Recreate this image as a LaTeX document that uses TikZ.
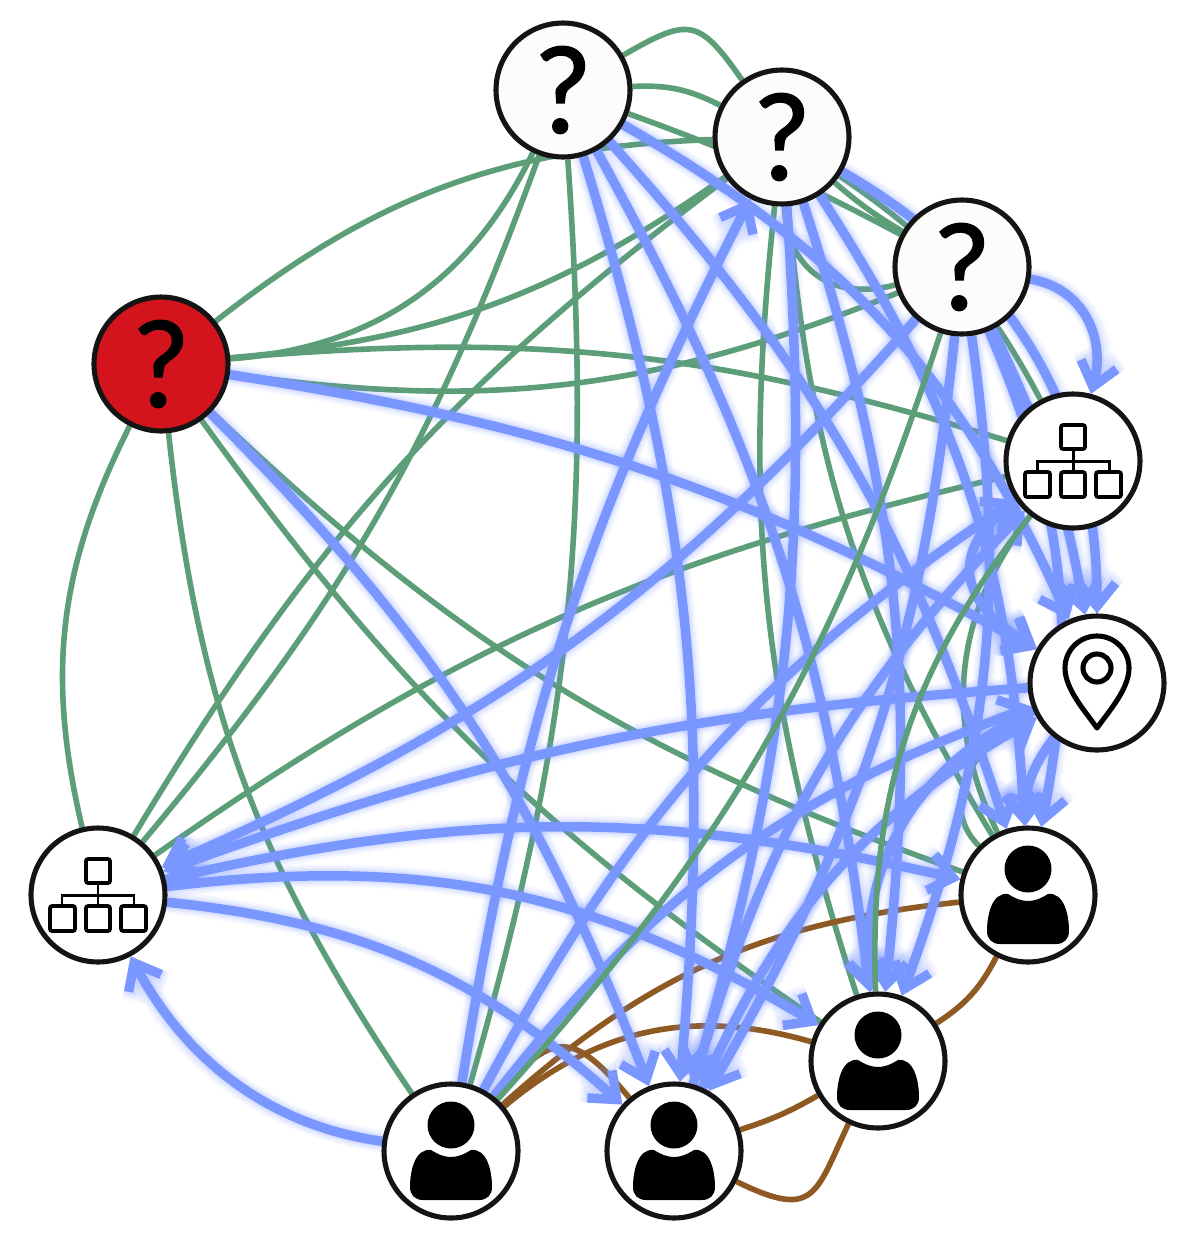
\documentclass[tikz,border=0pt]{standalone}
\usepackage{fontspec}
\newfontfamily\qfont[FakeBold=1.2]{Lato}
\usetikzlibrary{arrows.meta}
\pgfdeclarelayer{edges}
\pgfsetlayers{edges,main}
\definecolor{gedge}{HTML}{5C9E78}
\definecolor{bedge}{HTML}{7A96FF}
\definecolor{redge}{HTML}{8E5A22}
\definecolor{ring}{HTML}{141414}
\definecolor{qfill}{HTML}{FDFCFA}
\definecolor{redfill}{HTML}{D4141C}
\tikzset{
  basenode/.style={circle,draw=ring,line width=2.9pt,minimum size=2.68cm,inner sep=0pt,fill=white},
  qnode/.style={basenode,fill=qfill,font=\qfont\fontsize{68}{68}\selectfont},
  rnode/.style={qnode,fill=redfill},
  greenedge/.style={draw=gedge,line width=3.2pt},
  brownedge/.style={draw=redge,line width=3.2pt},
  tipbarb/.style={-{Straight Barb[length=13pt,width=21pt]}},
  halo1/.style={draw=bedge,line width=13pt,opacity=.06,tipbarb},
  halo2/.style={draw=bedge,line width=11pt,opacity=.07,tipbarb},
  halo3/.style={draw=bedge,line width=9pt,opacity=.09,tipbarb},
  halo4/.style={draw=bedge,line width=7.2pt,opacity=.13,tipbarb},
  blueedge/.style={draw=bedge,line width=5.4pt,tipbarb},
  personicon/.pic={
    \fill[black] (0,-26) circle[radius=23.5];
    \fill[black] (-20,-1) .. controls (-12,4) and (-6,6) .. (0,6)
      .. controls (6,6) and (12,4) .. (20,-1)
      .. controls (36,-3) and (41,20) .. (41,36)
      .. controls (41,44) and (36,49) .. (28,49) -- (-28,49)
      .. controls (-36,49) and (-41,44) .. (-41,36)
      .. controls (-41,20) and (-36,-3) .. (-20,-1) -- cycle;
  },
  orgicon/.pic={
    \draw[black,line width=2.1pt,rounded corners=1.2pt]
      (-12,-36) rectangle (12,-12)
      (-48,11) rectangle (-23,36)
      (-12,11) rectangle (12,36)
      (23,11) rectangle (48,36);
    \draw[black,line width=1.7pt] (0,-12) -- (0,11) (-36,11) -- (-36,0) -- (36,0) -- (36,11);
  },
  pinicon/.pic={
    \draw[black,line width=2.9pt,line join=round] (0,45)
      .. controls (-12,28) and (-32,6) .. (-32,-15)
      arc[start angle=180,end angle=360,radius=32]
      .. controls (32,6) and (12,28) .. (0,45) -- cycle;
    \draw[black,line width=2.9pt] (0,-15) circle[radius=14];
  }
}
\newcommand{\gre}[3]{\draw[greenedge] (#1) to[#3] (#2);}
\newcommand{\bro}[3]{\draw[brownedge] (#1) to[#3] (#2);}
\newcommand{\ble}[3]{%
  \draw[halo1] (#1) to[#3] (#2);
  \draw[halo2] (#1) to[#3] (#2);
  \draw[halo3] (#1) to[#3] (#2);
  \draw[halo4] (#1) to[#3] (#2);
  \draw[blueedge] (#1) to[#3] (#2);}
\begin{document}
\begin{tikzpicture}[x=0.02cm,y=-0.02cm]
\useasboundingbox (0,0) rectangle (1202,1248);
\node[qnode] (q1) at (563,90) {?};
\node[qnode] (q2) at (782,137) {?};
\node[qnode] (q3) at (962,267) {?};
\node[rnode] (r) at (161,364) {?};
\node[basenode] (h1) at (1073,461) {};
\node[basenode] (p) at (1097,683) {};
\node[basenode] (u1) at (1028,895) {};
\node[basenode] (u2) at (878,1061) {};
\node[basenode] (u3) at (674,1151) {};
\node[basenode] (u4) at (451,1151) {};
\node[basenode] (h2) at (98,895) {};
\pic at (h1) {orgicon};
\pic at (h2) {orgicon};
\pic at (p) {pinicon};
\pic at (u1) {personicon};
\pic at (u2) {personicon};
\pic at (u3) {personicon};
\pic at (u4) {personicon};
\begin{pgfonlayer}{edges}
% green
\gre{q1}{q2}{out=30,in=125,looseness=1.6}
\gre{q1}{q2}{bend left=15}
\gre{q1}{q3}{bend left=4}
\gre{r}{q2}{bend left=18}
\gre{r}{q1}{bend right=30}
\gre{r}{q2}{bend right=15}
\gre{r}{q3}{bend right=15}
\gre{r}{h1}{bend left=11}
\gre{q1}{h2}{bend left=10}
\gre{q2}{h2}{bend right=11}
\gre{q1}{u4}{bend left=10}
\gre{r}{h2}{bend right=20}
\gre{r}{u4}{bend right=14}
\gre{r}{u2}{bend right=10}
\gre{r}{u1}{bend right=12}
\gre{h2}{h1}{bend left=11}
\gre{q2}{u2}{bend right=12}
\gre{q2}{q3}{out=-88,in=195,looseness=1.2}
\gre{q2}{q3}{bend right=5}
\gre{q2}{h1}{bend left=14}
\gre{q3}{h1}{bend right=8}
\gre{q2}{u1}{bend right=13}
\gre{h1}{u1}{bend right=32}
\gre{p}{u1}{out=205,in=135,looseness=1.1}
% brown
\bro{u4}{u1}{bend left=18}
\bro{u4}{u2}{bend left=28}
\bro{u3}{u2}{bend right=6}
\draw[brownedge] (u3) .. controls (815,1220) and (815,1195) .. (u2);
\bro{u1}{u2}{bend left=15}
\bro{u4}{u3}{out=50,in=130,looseness=1.7}
% blue
\ble{q1}{u3}{bend left=11}
\ble{q1}{u2}{bend left=11}
\ble{q1}{u1}{bend left=12}
\ble{q1}{p}{bend left=18}
\ble{q2}{u3}{bend left=10}
\ble{q2}{u2}{bend left=12}
\ble{q2}{u1}{bend left=15}
\ble{q2}{p}{bend left=30}
\ble{q3}{u3}{bend left=12}
\ble{q3}{u2}{bend left=14}
\ble{q3}{u1}{bend left=17}
\ble{q3}{p}{bend left=8}
\ble{q3}{h1}{out=-10,in=75,looseness=1.1}
\ble{q3}{h2}{bend left=12.5}
\ble{h1}{p}{out=215,in=150,looseness=1.5}
\ble{r}{p}{bend left=10}
\ble{r}{u3}{bend left=12}
\ble{p}{h2}{bend right=8}
\ble{h2}{u1}{bend left=13}
\ble{h2}{u2}{bend left=19}
\ble{h2}{u3}{bend left=18}
\ble{u4}{h2}{out=172,in=-62,looseness=.95}
\ble{u4}{q2}{bend left=9}
\ble{u4}{h1}{bend left=14}
\ble{u4}{p}{bend left=16}
\ble{u3}{h1}{bend left=14}
\ble{u3}{p}{bend left=18}
\ble{p}{u2}{bend right=36}
\ble{p}{u1}{bend right=20}
% green on top
\gre{q3}{u4}{bend left=12}
\gre{h1}{u2}{bend right=20}
\end{pgfonlayer}
\end{tikzpicture}
\end{document}
